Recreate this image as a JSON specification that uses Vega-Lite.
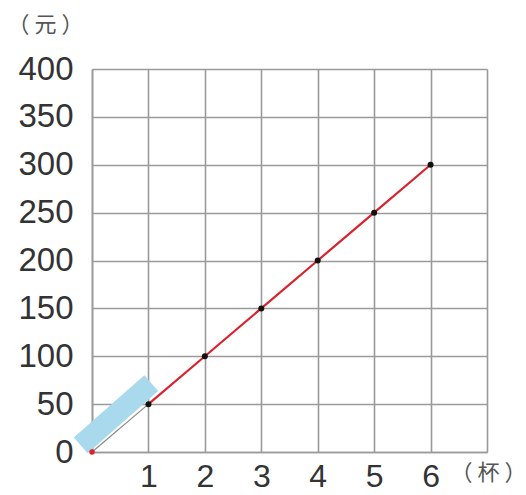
{
  "$schema": "https://vega.github.io/schema/vega-lite/v6.json",
  "width": 395,
  "height": 383,
  "autosize": {"type": "none"},
  "padding": {"left": 92, "top": 69, "right": 39, "bottom": 43},
  "background": "white",
  "config": {
    "view": {"stroke": null},
    "axis": {"labelFont": "Liberation Sans", "titleFont": "Noto Sans CJK SC", "labelColor": "#333333", "titleColor": "#555555"}
  },
  "datasets": {
    "pts": [
      {"cups": 1, "yuan": 50},
      {"cups": 2, "yuan": 100},
      {"cups": 3, "yuan": 150},
      {"cups": 4, "yuan": 200},
      {"cups": 5, "yuan": 250},
      {"cups": 6, "yuan": 300}
    ],
    "seg": [
      {"cups": 0, "yuan": 0},
      {"cups": 1, "yuan": 50}
    ],
    "band": [
      {"cups": -0.2, "yuan": 7},
      {"cups": 1.05, "yuan": 72}
    ],
    "origin": [{"cups": 0, "yuan": 0}]
  },
  "layer": [
    {
      "data": {"name": "pts"},
      "mark": {"type": "point", "opacity": 0},
      "encoding": {
        "x": {
          "field": "cups", "type": "quantitative",
          "scale": {"domain": [0, 7], "nice": false},
          "axis": {
            "values": [0, 1, 2, 3, 4, 5, 6, 7],
            "format": "d",
            "labelExpr": "datum.value >= 1 && datum.value <= 6 ? datum.label : ''",
            "grid": true, "gridColor": "#9a9a9a", "gridWidth": 1.6, "gridOpacity": 1,
            "domainColor": "#9a9a9a", "domainWidth": 1.6,
            "ticks": false, "labelFontSize": 32, "labelPadding": 9,
            "title": "（ 杯 ）", "titleFontSize": 22, "titleFontWeight": "normal",
            "titleX": 396, "titleY": 20, "titleAnchor": "middle", "titleAlign": "center", "titleBaseline": "middle"
          }
        },
        "y": {
          "field": "yuan", "type": "quantitative",
          "scale": {"domain": [0, 400], "nice": false},
          "axis": {
            "values": [0, 50, 100, 150, 200, 250, 300, 350, 400],
            "grid": true, "gridColor": "#9a9a9a", "gridWidth": 1.6, "gridOpacity": 1,
            "domainColor": "#9a9a9a", "domainWidth": 1.6,
            "ticks": false, "labelFontSize": 33, "labelPadding": 19,
            "title": "（ 元 ）", "titleFontSize": 22, "titleFontWeight": "normal", "titleAngle": 0,
            "titleX": -47, "titleY": -45, "titleAlign": "center", "titleBaseline": "middle"
          }
        }
      }
    },
    {
      "data": {"name": "band"},
      "mark": {"type": "line", "color": "#a9d9ec", "strokeWidth": 21, "strokeCap": "butt", "clip": false},
      "encoding": {"x": {"field": "cups", "type": "quantitative"}, "y": {"field": "yuan", "type": "quantitative"}}
    },
    {
      "data": {"name": "seg"},
      "mark": {"type": "line", "color": "#555555", "strokeWidth": 1.2, "opacity": 0.7},
      "encoding": {"x": {"field": "cups", "type": "quantitative"}, "y": {"field": "yuan", "type": "quantitative"}}
    },
    {
      "data": {"name": "pts"},
      "mark": {"type": "line", "color": "#d8232e", "strokeWidth": 2.2},
      "encoding": {"x": {"field": "cups", "type": "quantitative"}, "y": {"field": "yuan", "type": "quantitative"}}
    },
    {
      "data": {"name": "pts"},
      "mark": {"type": "circle", "color": "#111111", "size": 36, "opacity": 1},
      "encoding": {"x": {"field": "cups", "type": "quantitative"}, "y": {"field": "yuan", "type": "quantitative"}}
    },
    {
      "data": {"name": "origin"},
      "mark": {"type": "circle", "color": "#d8232e", "size": 30, "opacity": 1, "clip": false},
      "encoding": {"x": {"field": "cups", "type": "quantitative"}, "y": {"field": "yuan", "type": "quantitative"}}
    }
  ]
}
